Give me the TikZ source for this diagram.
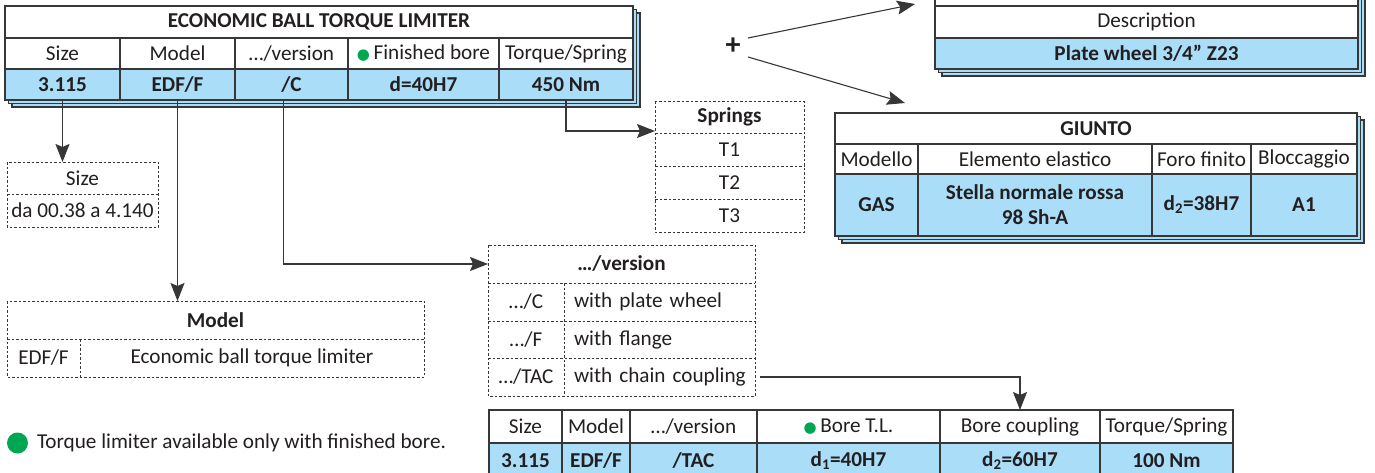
\documentclass[tikz,border=0pt]{standalone}
\usepackage{fontspec}
\setmainfont{Carlito}
\newfontfamily\dejavu{DejaVu Sans}
\usetikzlibrary{arrows.meta}
\definecolor{cblue}{RGB}{170,221,247}
\definecolor{cline}{RGB}{55,55,55}
\definecolor{ctext}{RGB}{35,31,32}
\definecolor{cgreen}{RGB}{0,166,81}
\newcommand\fnt{\fontsize{21.2}{25}\selectfont}
\newcommand\gdotx{{\color{cgreen}\dejavu\fontsize{15}{15}\selectfont ●}}
\newcommand\tcell[7]{\node[tc,#6,minimum width={(#4-#2)*1pt},minimum height={(#5-#3)*1pt}] (#1) at ({(#2+#4)/2},{(#3+#5)/2}) {#7};}
\newcommand\shadowrect[4]{%
  \draw[shd] ({#1+7},{#2+7}) rectangle ({#3+7},{#4+7});
  \draw[shd] ({#1+3.5},{#2+3.5}) rectangle ({#3+3.5},{#4+3.5});}
\tikzset{
  tc/.style={inner sep=0pt, outer sep=0pt, text=ctext, align=center, font=\fnt},
  sc/.style={draw=cline, line width=1.3pt, fill=white},
  bc/.style={draw=cline, line width=1.3pt, fill=cblue, font=\fnt\bfseries},
  bt/.style={font=\fnt\bfseries},
  shd/.style={draw=cline, line width=1.2pt, fill=cblue},
  dsh/.style={draw=cline, line width=0.9pt, dash pattern=on 2.5pt off 2pt},
  arr/.style={draw=cline, line width=1.1pt, -{Stealth[length=18pt,width=14pt,inset=3pt]}},
  lcell/.style={align=left, text width=171pt}
}
\begin{document}
\begin{tikzpicture}[x=1pt,y=-1pt]
\path[use as bounding box, clip] (0,0) rectangle (1375,472);
\fill[white] (0,0) rectangle (1375,472);
% ---------- main table
\shadowrect{5}{6}{633}{100}
\tcell{t1title}{5}{6}{633}{38}{sc,bt}{ECONOMIC BALL TORQUE LIMITER}
\tcell{t1hsize}{5}{38}{120}{69}{sc}{Size}
\tcell{t1hmodel}{120}{38}{235}{69}{sc}{Model}
\tcell{t1hver}{235}{38}{348}{69}{sc}{…/version}
\tcell{t1hbore}{348}{38}{499}{69}{sc}{\gdotx\,Finished bore}
\tcell{t1htorq}{499}{38}{633}{69}{sc}{Torque/Spring}
\tcell{t1size}{5}{69}{120}{100}{bc}{3.115}
\tcell{t1model}{120}{69}{235}{100}{bc}{EDF/F}
\tcell{t1ver}{235}{69}{348}{100}{bc}{/C}
\tcell{t1bore}{348}{69}{499}{100}{bc}{d=40H7}
\tcell{t1torq}{499}{69}{633}{100}{bc}{450 Nm}
% ---------- size box
\tcell{szT}{7}{162}{158}{194}{}{Size}
\tcell{szR}{7}{194}{158}{227}{}{da 00.38 a 4.140}
\draw[dsh] (szT.north west) rectangle (szR.south east);
\draw[dsh] (szT.south west) -- (szT.south east);
% ---------- model box
\tcell{mT}{7}{301}{424}{339}{bt}{Model}
\tcell{mL}{7}{339}{80}{377}{}{EDF/F}
\tcell{mR}{80}{339}{424}{377}{}{Economic ball torque limiter}
\draw[dsh] (mT.north west) rectangle (mR.south east);
\draw[dsh] (mT.south west) -- (mT.south east);
\draw[dsh] (mL.north east) -- (mL.south east);
% ---------- springs box
\tcell{spT}{655}{101}{804}{133}{bt}{Springs}
\tcell{sp1}{655}{133}{804}{166}{}{T1}
\tcell{sp2}{655}{166}{804}{199}{}{T2}
\tcell{sp3}{655}{199}{804}{232}{}{T3}
\draw[dsh] (spT.north west) rectangle (sp3.south east);
\draw[dsh] (spT.south west) -- (spT.south east);
\draw[dsh] (sp1.south west) -- (sp1.south east);
\draw[dsh] (sp2.south west) -- (sp2.south east);
% ---------- version box
\tcell{vT}{488}{245}{755}{283}{bt}{…/version}
\tcell{vC1}{488}{283}{564}{321}{}{…/C}
\tcell{vC2}{564}{283}{755}{321}{lcell}{\mbox{with plate wheel}}
\tcell{vF1}{488}{321}{564}{358}{}{…/F}
\tcell{vF2}{564}{321}{755}{358}{lcell}{\mbox{with flange}}
\tcell{vTAC1}{488}{358}{564}{396}{}{…/TAC}
\tcell{vTAC2}{564}{358}{755}{396}{lcell}{\mbox{with chain coupling}}
\draw[dsh] (vT.north west) rectangle (vTAC2.south east);
\draw[dsh] (vT.south west) -- (vT.south east);
\draw[dsh] (vC1.south west) -- (vC2.south east);
\draw[dsh] (vF1.south west) -- (vF2.south east);
\draw[dsh] (vC1.north east) -- (vTAC1.south east);
% ---------- plate wheel table (top right)
\shadowrect{935}{-26}{1358}{69}
\tcell{pwTop}{935}{-26}{1358}{6}{sc}{}
\tcell{pwD}{935}{6}{1358}{38}{sc}{Description}
\tcell{pwV}{935}{38}{1358}{69}{bc}{Plate wheel 3/4” Z23}
% ---------- GIUNTO table
\shadowrect{835}{113}{1357}{236}
\tcell{gT}{835}{113}{1357}{144}{sc,bt}{GIUNTO}
\tcell{gH1}{835}{144}{918}{174}{sc}{Modello}
\tcell{gH2}{918}{144}{1152}{174}{sc}{Elemento elastico}
\tcell{gH3}{1152}{144}{1251}{174}{sc}{Foro finito}
\tcell{gH4}{1251}{144}{1357}{174}{sc}{Bloccaggio}
\tcell{gV1}{835}{174}{918}{236}{bc}{GAS}
\tcell{gV2}{918}{174}{1152}{236}{bc}{Stella normale rossa\\98 Sh-A}
\tcell{gV3}{1152}{174}{1251}{236}{bc}{d\textsubscript{2}=38H7}
\tcell{gV4}{1251}{174}{1357}{236}{bc}{A1}
% ---------- bottom table
\tcell{bSize}{489}{410}{562}{443}{sc}{Size}
\tcell{bModel}{562}{410}{630}{443}{sc}{Model}
\tcell{bVer}{630}{410}{757}{443}{sc}{…/version}
\tcell{bBore}{757}{410}{940}{443}{sc}{\gdotx\,Bore T.L.}
\tcell{bBc}{940}{410}{1100}{443}{sc}{Bore coupling}
\tcell{bTorq}{1100}{410}{1233}{443}{sc}{Torque/Spring}
\tcell{bvSize}{489}{443}{562}{478}{bc}{3.115}
\tcell{bvModel}{562}{443}{630}{478}{bc}{EDF/F}
\tcell{bvVer}{630}{443}{757}{478}{bc}{/TAC}
\tcell{bvBore}{757}{443}{940}{478}{bc}{d\textsubscript{1}=40H7}
\tcell{bvBc}{940}{443}{1100}{478}{bc}{d\textsubscript{2}=60H7}
\tcell{bvTorq}{1100}{443}{1233}{478}{bc}{100 Nm}
% ---------- plus and legend
\node[tc, font=\fontsize{30}{30}\selectfont\bfseries] (plus) at (733,46) {+};
\coordinate (pa1) at (915,4);
\coordinate (pa2) at (905,103);
\node[circle, fill=cgreen, minimum size=21pt, inner sep=0pt] (legdot) at (17.5,443) {};
\node[tc, anchor=west] (legtxt) at (37,443) {Torque limiter available only with finished bore.};
% ---------- connectors
\draw[arr] (t1size.south) -- (t1size.south |- szT.north);
\draw[arr] (t1model.south) -- (t1model.south |- mT.north);
\draw[arr] ([xshift=-8pt]t1ver.south) |- (vT.west);
\draw[arr] (t1torq.south) |- ([yshift=2pt]spT.south west);
\draw[arr] ([xshift=5pt]vTAC2.east) -| (bBc.north);
\draw[arr] ([shift={(15,-8)}]plus.center) -- (pa1);
\draw[arr] ([shift={(15,11)}]plus.center) -- (pa2);
\end{tikzpicture}
\end{document}
